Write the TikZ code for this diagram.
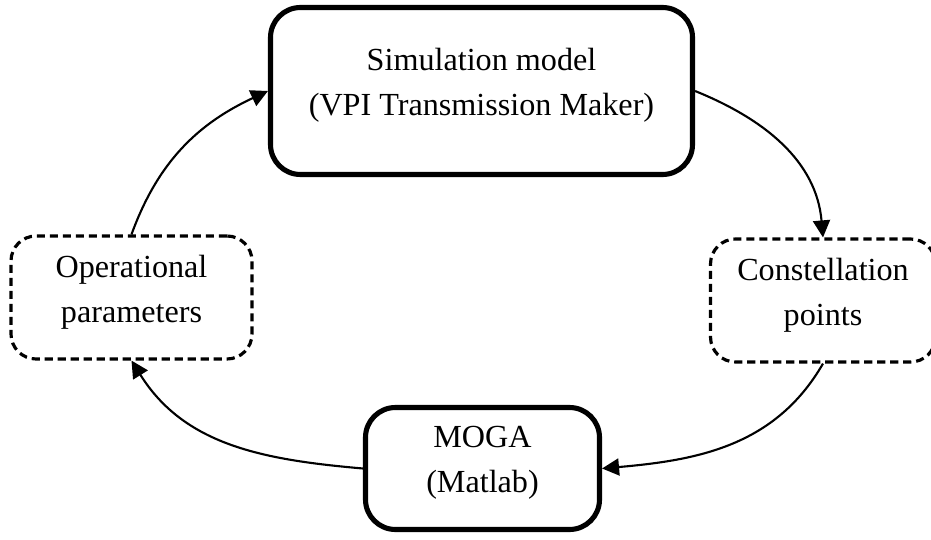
\documentclass[tikz,border=0pt]{standalone}
\usepackage{fontspec}
\setmainfont{Liberation Serif}
\usetikzlibrary{arrows.meta,positioning}
\definecolor{Ink}{HTML}{000000}

\begin{document}
\begin{tikzpicture}[
  font=\fontsize{18.3}{25.6}\selectfont,
  >=Triangle,
  solidbox/.style={draw=Ink, rounded corners=0.6cm, line width=2.9pt, align=center, inner sep=0pt, text depth=0.36cm},
  dashbox/.style={draw=Ink, rounded corners=0.5cm, line width=1.8pt, dash pattern=on 4.6pt off 2.8pt, align=center, inner sep=0pt, text depth=0.36cm},
  arr/.style={-{Triangle[length=3.4mm,width=3.4mm]}, line width=1.2pt, draw=Ink},
]
\useasboundingbox (0,0) rectangle (18.62,-10.8);
\node[solidbox, minimum width=8.44cm, minimum height=3.34cm] (sim) at (9.63,-1.82) {Simulation model\\(VPI Transmission Maker)};
\node[dashbox, minimum width=4.82cm, minimum height=2.46cm] (ops) at (2.63,-5.95) {Operational\\parameters};
\node[dashbox, minimum width=4.5cm, minimum height=2.46cm] (cons) at (16.46,-6.01) {Constellation\\points};
\node[solidbox, minimum width=4.68cm, minimum height=2.44cm] (moga) at (9.65,-9.37) {MOGA\\(Matlab)};
\draw[arr] (sim.east) to[out=-22,in=95] (cons.north);
\draw[arr] (cons.south) to[out=-120,in=5] (moga.east);
\draw[arr] (moga.west) to[out=175,in=-58] (ops.south);
\draw[arr] (ops.north) to[out=70,in=-155] (sim.west);
\end{tikzpicture}
\end{document}
